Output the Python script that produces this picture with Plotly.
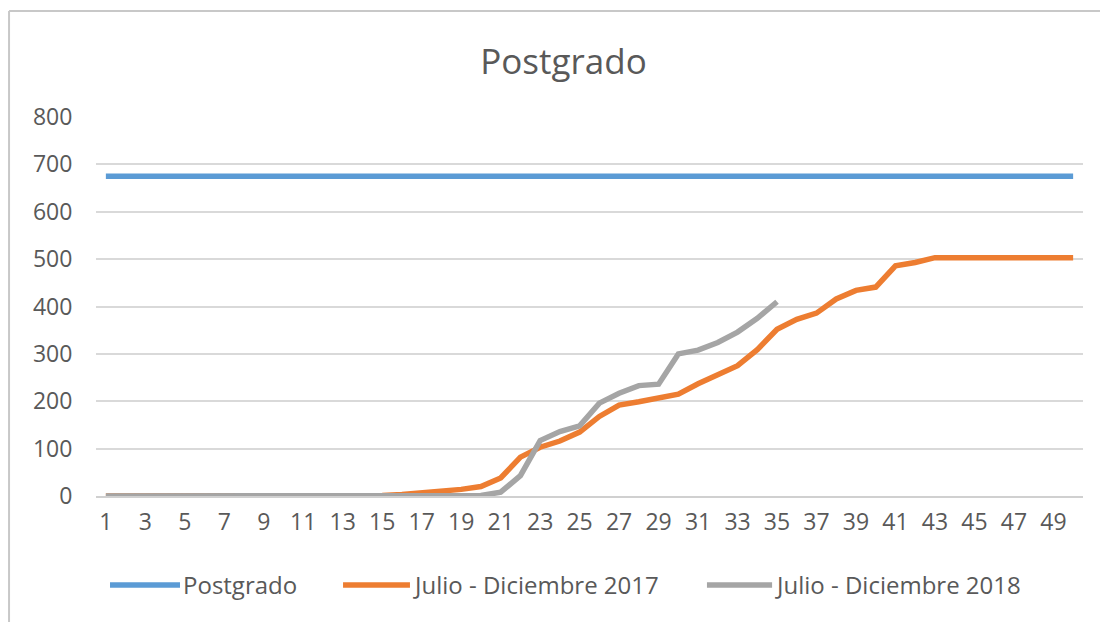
import plotly.graph_objects as go

dias = list(range(1, 51))

postgrado = [675, 675, 675, 675, 675, 675, 675, 675, 675, 675,
             675, 675, 675, 675, 675, 675, 675, 675, 675, 675,
             675, 675, 675, 675, 675, 675, 675, 675, 675, 675,
             675, 675, 675, 675, 675, 675, 675, 675, 675, 675,
             675, 675, 675, 675, 675, 675, 675, 675, 675, 675]

jul_dic_2017 = [0, 0, 0, 0, 0, 0, 0, 0, 0, 0,
                0, 0, 0, 0, 1, 3, 6, 10, 14, 20,
                38, 82, 103, 116, 135, 168, 192, 199, 208, 215,
                237, 255, 275, 309, 352, 373, 386, 416, 434, 441,
                486, 493, 503, 503, 503, 503, 503, 503, 503, 503]

jul_dic_2018 = [0, 0, 0, 0, 0, 0, 0, 0, 0, 0,
                0, 0, 0, 0, 0, 0, 0, 0, 0, 1,
                8, 43, 117, 136, 148, 196, 217, 233, 236, 300,
                308, 324, 346, 375, 410]

series_names = ["Postgrado", "Julio - Diciembre 2017", "Julio - Diciembre 2018"]
series_colors = ["#5B9BD5", "#ED7D31", "#A5A5A5"]
tick_vals = list(range(1, 50, 2))

FONT = "Open Sans"
TXT = "#595959"

fig = go.Figure()
for name, color, ys in zip(series_names, series_colors, [postgrado, jul_dic_2017, jul_dic_2018]):
    fig.add_trace(go.Scatter(x=dias[:len(ys)], y=ys, mode="lines", name=name,
                             line=dict(color=color, width=5.5), showlegend=False))

# manual legend (long line symbols as in the original)
leg_y = -0.2348
leg_pos = [(0.0142, 0.0851), (0.2503, 0.3181), (0.619, 0.685)]
shapes = []
annotations = []
for (x0, x1), name, color in zip(leg_pos, series_names, series_colors):
    shapes.append(dict(type="line", xref="paper", yref="paper", x0=x0, x1=x1,
                       y0=leg_y, y1=leg_y, line=dict(color=color, width=5.5)))
    annotations.append(dict(xref="paper", yref="paper", x=x1 + 0.001, y=leg_y,
                            xanchor="left", yanchor="middle", text=name, showarrow=False,
                            font=dict(family=FONT, size=24, color=TXT)))

# chart border (top and left edges visible in the crop)
shapes.append(dict(type="line", xref="paper", yref="paper", x0=-0.0881, x1=1.1,
                   y0=1.2797, y1=1.2797, line=dict(color="#C8C8C8", width=2)))
shapes.append(dict(type="line", xref="paper", yref="paper", x0=-0.0881, x1=-0.0881,
                   y0=-0.4, y1=1.2797, line=dict(color="#C8C8C8", width=2)))

fig.update_layout(
    width=1100, height=614,
    margin=dict(l=88, r=25, t=109, b=126),
    paper_bgcolor="white", plot_bgcolor="white",
    title=dict(text="Postgrado", x=0.505, xanchor="center", y=0.912, yanchor="middle",
               font=dict(family=FONT, size=35, color=TXT)),
    font=dict(family=FONT, color=TXT),
    showlegend=False,
    xaxis=dict(range=[0.5, 50.5], tickmode="array", tickvals=tick_vals,
               showgrid=False, zeroline=False, showline=True, linecolor="#D0D0D0",
               linewidth=2, ticks="outside", ticklen=4, tickcolor="rgba(0,0,0,0)",
               tickfont=dict(family=FONT, size=23, color=TXT)),
    yaxis=dict(range=[0, 800], dtick=100, showgrid=True, gridcolor="#D9D9D9",
               gridwidth=2, zeroline=False, showline=False,
               ticks="outside", ticklen=18, tickcolor="rgba(0,0,0,0)",
               tickfont=dict(family=FONT, size=23, color=TXT)),
    shapes=shapes,
    annotations=annotations,
)

fig.write_html("out.html")
